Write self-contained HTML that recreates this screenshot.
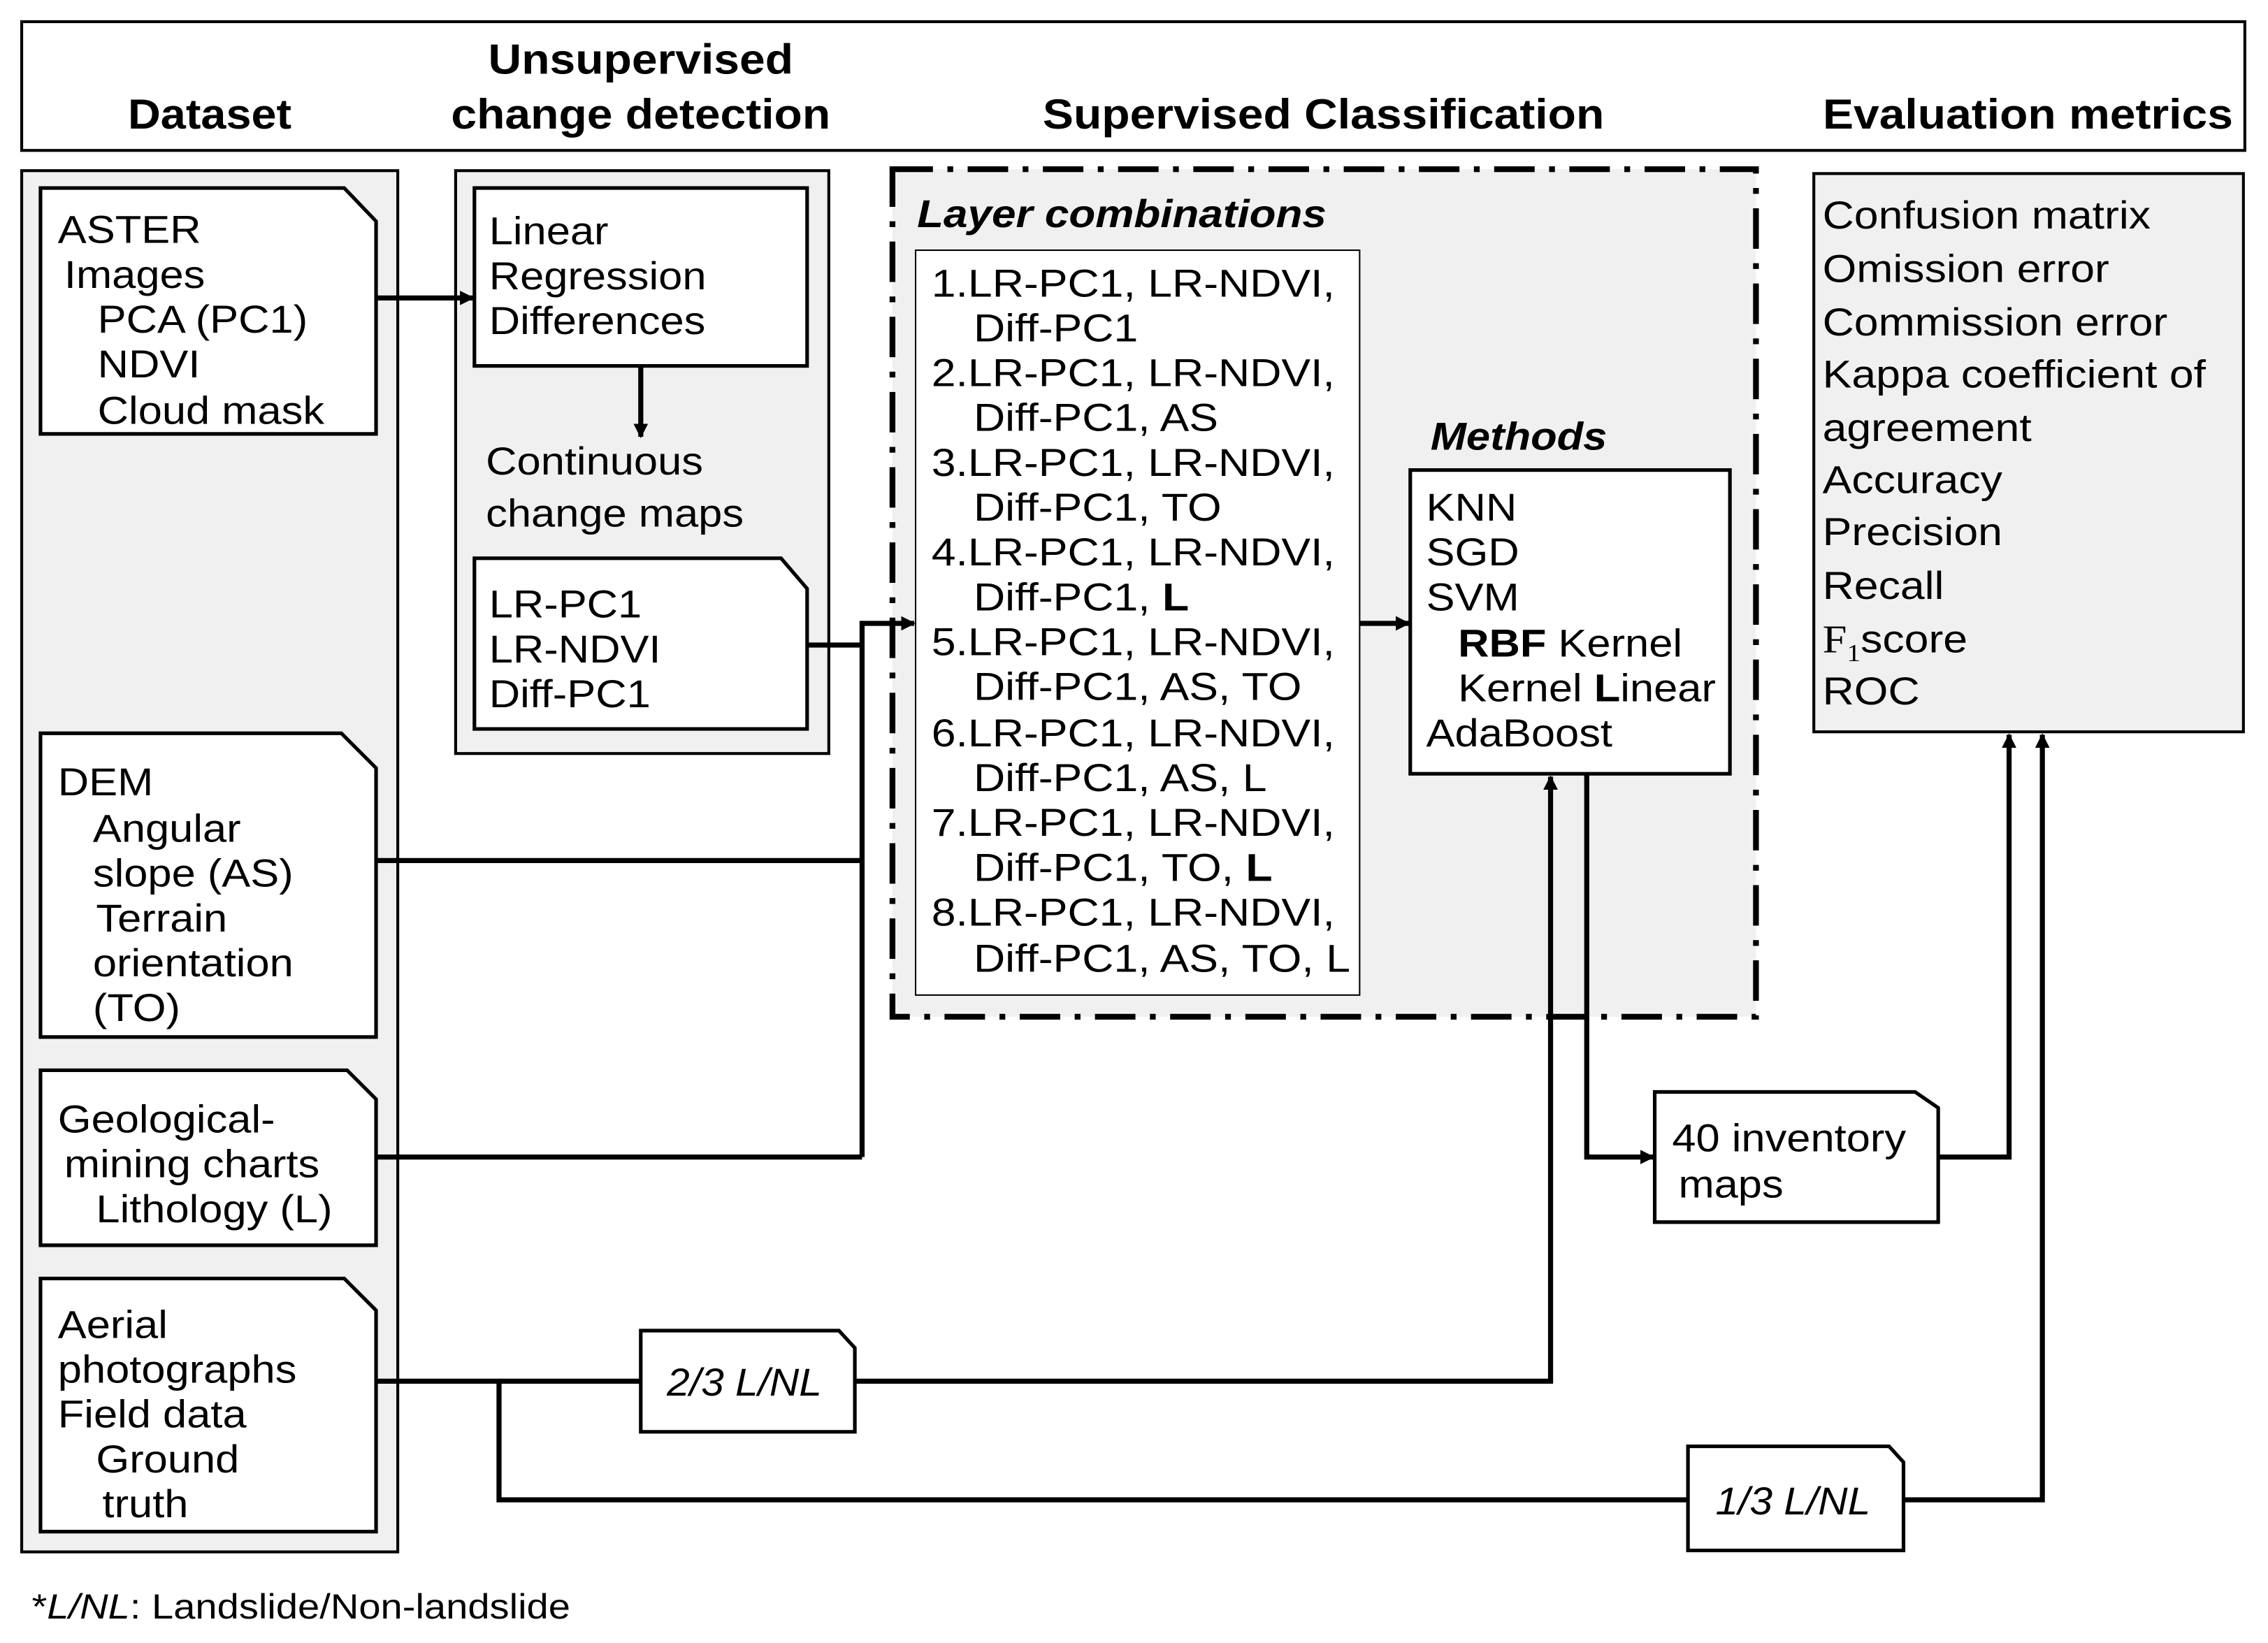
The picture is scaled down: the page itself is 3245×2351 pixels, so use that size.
<!DOCTYPE html>
<html><head><meta charset="utf-8"><style>
html,body{margin:0;padding:0;background:#fff}
svg{display:block}
text{font-family:"Liberation Sans",Arial,sans-serif;fill:#000}
</style></head><body>
<svg width="3245" height="2351" viewBox="0 0 1568 1136" preserveAspectRatio="none" xmlns="http://www.w3.org/2000/svg">
<defs>
<marker id="a" markerWidth="10" markerHeight="10" refX="9" refY="5" orient="auto" markerUnits="userSpaceOnUse"><path d="M0,0 L10,5 L0,10 Z" fill="#000"/></marker>
</defs>
<!-- header -->
<rect x="15" y="15" width="1537" height="89" fill="#fff" stroke="#000" stroke-width="2"/>
<g font-weight="bold" font-size="29" text-anchor="middle">
<text x="145" y="89" transform="matrix(1.08,0,0,1,-11.6,0)">Dataset</text>
<text x="443" y="51" transform="matrix(1.1,0,0,1,-44.3,0)">Unsupervised</text>
<text x="443" y="89" transform="matrix(1.1,0,0,1,-44.3,0)">change detection</text>
<text x="915" y="89" transform="matrix(1.1,0,0,1,-91.5,0)">Supervised Classification</text>
<text x="1402" y="89" transform="matrix(1.1,0,0,1,-140.2,0)">Evaluation metrics</text>
</g>
<!-- panels -->
<rect x="15" y="118" width="260" height="955" fill="#f0f0f0" stroke="#000" stroke-width="2"/>
<rect x="315" y="118" width="258" height="403" fill="#f0f0f0" stroke="#000" stroke-width="2"/>
<rect x="617" y="117" width="597" height="586" fill="#f0f0f0" stroke="#000" stroke-width="4" stroke-dasharray="28,10,4,10"/>
<rect x="1254" y="120" width="297" height="386" fill="#f0f0f0" stroke="#000" stroke-width="2"/>
<!-- docs -->
<g fill="#fff" stroke="#000" stroke-width="2.5">
<path d="M28,130 H238 L260,153 V300 H28 Z"/>
<path d="M28,507 H236 L260,531 V717 H28 Z"/>
<path d="M28,740 H240 L260,760 V861 H28 Z"/>
<path d="M28,884 H238 L260,906 V1059 H28 Z"/>
<rect x="328" y="130" width="230" height="123"/>
<path d="M328,386 H540 L558,407 V504 H328 Z"/>
<rect x="633" y="173" width="307" height="515" stroke-width="1"/>
<rect x="975" y="325" width="221" height="210"/>
<path d="M1144,755 H1324 L1340,766 V845 H1144 Z"/>
<path d="M443,920 H580 L591,932 V990 H443 Z"/>
<path d="M1167,1000 H1306 L1316,1011 V1072 H1167 Z"/>
</g>
<!-- texts -->
<g font-size="27">
<g transform="matrix(1.1,0,0,1,-4,0)">
<text x="40" y="168">ASTER</text>
<text x="44" y="199">Images</text>
<text x="65" y="230">PCA (PC1)</text>
<text x="65" y="261">NDVI</text>
<text x="65" y="293">Cloud mask</text>
<text x="40" y="550">DEM</text>
<text x="62" y="582">Angular</text>
<text x="62" y="613">slope (AS)</text>
<text x="64" y="644">Terrain</text>
<text x="62" y="675">orientation</text>
<text x="62" y="706">(TO)</text>
<text x="40" y="783">Geological-</text>
<text x="44" y="814">mining charts</text>
<text x="64" y="845">Lithology (L)</text>
<text x="40" y="925">Aerial</text>
<text x="40" y="956">photographs</text>
<text x="40" y="987">Field data</text>
<text x="64" y="1018">Ground</text>
<text x="68" y="1049">truth</text>
</g>
<g transform="matrix(1.1,0,0,1,-33.7,0)">
<text x="338" y="169">Linear</text>
<text x="338" y="200">Regression</text>
<text x="338" y="231">Differences</text>
<text x="336" y="328">Continuous</text>
<text x="336" y="364">change maps</text>
<text x="338" y="427">LR-PC1</text>
<text x="338" y="458">LR-NDVI</text>
<text x="338" y="489">Diff-PC1</text>
</g>
<text x="634" y="157" font-weight="bold" font-style="italic" transform="matrix(1.11,0,0,1,-69.7,0)">Layer combinations</text>
<g transform="matrix(1.12,0,0,1,-77.3,0)">
<text x="644" y="205">1.LR-PC1, LR-NDVI,</text>
<text x="670" y="236">Diff-PC1</text>
<text x="644" y="267">2.LR-PC1, LR-NDVI,</text>
<text x="670" y="298">Diff-PC1, AS</text>
<text x="644" y="329">3.LR-PC1, LR-NDVI,</text>
<text x="670" y="360">Diff-PC1, TO</text>
<text x="644" y="391">4.LR-PC1, LR-NDVI,</text>
<text x="670" y="422">Diff-PC1, <tspan font-weight="bold">L</tspan></text>
<text x="644" y="453">5.LR-PC1, LR-NDVI,</text>
<text x="670" y="484">Diff-PC1, AS, TO</text>
<text x="644" y="516">6.LR-PC1, LR-NDVI,</text>
<text x="670" y="547">Diff-PC1, AS, L</text>
<text x="644" y="578">7.LR-PC1, LR-NDVI,</text>
<text x="670" y="609">Diff-PC1, TO, <tspan font-weight="bold">L</tspan></text>
<text x="644" y="640">8.LR-PC1, LR-NDVI,</text>
<text x="670" y="672">Diff-PC1, AS, TO, L</text>
</g>
<text x="989" y="311" font-weight="bold" font-style="italic" transform="matrix(1.1,0,0,1,-98.9,0)">Methods</text>
<g transform="matrix(1.1,0,0,1,-98.6,0)">
<text x="986" y="360">KNN</text>
<text x="986" y="391">SGD</text>
<text x="986" y="422">SVM</text>
<text x="1006" y="454"><tspan font-weight="bold">RBF</tspan> Kernel</text>
<text x="1006" y="485">Kernel <tspan font-weight="bold">L</tspan>inear</text>
<text x="986" y="516">AdaBoost</text>
</g>
<g transform="matrix(1.12,0,0,1,-151.2,0)">
<text x="1260" y="158">Confusion matrix</text>
<text x="1260" y="195">Omission error</text>
<text x="1260" y="232">Commission error</text>
<text x="1260" y="268">Kappa coefficient of</text>
<text x="1260" y="305">agreement</text>
<text x="1260" y="341">Accuracy</text>
<text x="1260" y="377">Precision</text>
<text x="1260" y="414">Recall</text>
<text x="1260" y="451"><tspan font-family="Liberation Serif">F<tspan font-size="17" dy="6">1</tspan></tspan><tspan dy="-6">score</tspan></text>
<text x="1260" y="487">ROC</text>
</g>
<g transform="matrix(1.1,0,0,1,-115.6,0)">
<text x="1156" y="796">40 inventory</text>
<text x="1160" y="828">maps</text>
</g>
<text x="461" y="965" font-style="italic" transform="matrix(1.05,0,0,1,-23,0)">2/3 L/NL</text>
<text x="1186" y="1047" font-style="italic" transform="matrix(1.05,0,0,1,-59.3,0)">1/3 L/NL</text>
<text x="22" y="1119" font-size="24" transform="matrix(1.13,0,0,1,-2.9,0)">*<tspan font-style="italic">L/NL</tspan>: Landslide/Non-landslide</text>
</g>
<!-- connectors -->
<g fill="none" stroke="#000" stroke-width="3.5">
<line x1="260" y1="206" x2="327" y2="206" marker-end="url(#a)"/>
<line x1="443" y1="253" x2="443" y2="302" marker-end="url(#a)"/>
<polyline points="558,446 596,446"/>
<polyline points="596,800 596,431 632,431" marker-end="url(#a)"/>
<line x1="260" y1="595" x2="596" y2="595"/>
<line x1="260" y1="800" x2="596" y2="800"/>
<line x1="940" y1="431" x2="974" y2="431" marker-end="url(#a)"/>
<polyline points="1097,535 1097,800 1143,800" marker-end="url(#a)"/>
<line x1="260" y1="955" x2="443" y2="955"/>
<polyline points="591,955 1072,955 1072,537" marker-end="url(#a)"/>
<polyline points="345,955 345,1037 1167,1037"/>
<polyline points="1316,1037 1412,1037 1412,508" marker-end="url(#a)"/>
<polyline points="1340,800 1389,800 1389,508" marker-end="url(#a)"/>
</g>
</svg>
</body></html>
